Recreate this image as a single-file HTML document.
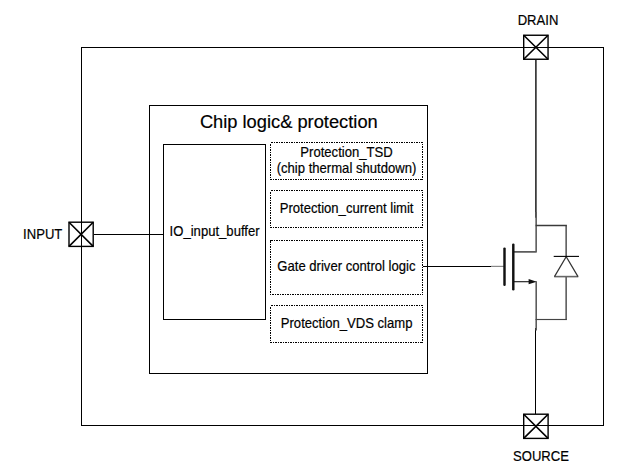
<!DOCTYPE html>
<html>
<head>
<meta charset="utf-8">
<title>Block diagram</title>
<style>
  html, body { margin: 0; padding: 0; background: #ffffff; }
  body { width: 630px; height: 474px; overflow: hidden; }
  svg { display: block; }
  text { font-family: "Liberation Sans", sans-serif; fill: #000; stroke: #000; stroke-width: 0.18px; }
</style>
</head>
<body>
<svg width="630" height="474" viewBox="0 0 630 474">
  <rect x="0" y="0" width="630" height="474" fill="#ffffff"/>

  <!-- solid boxes -->
  <g fill="none" stroke="#000" stroke-width="1" shape-rendering="crispEdges">
    <rect x="81.5" y="47.5" width="522" height="378"/>
    <rect x="149.5" y="105.5" width="278" height="268"/>
    <rect x="163.5" y="144.5" width="102" height="175"/>
  </g>

  <!-- dotted boxes -->
  <g fill="none" stroke="#000" stroke-width="1" stroke-dasharray="2 1 1 1" shape-rendering="crispEdges">
    <rect x="270.5" y="142.5" width="152" height="37"/>
    <rect x="270.5" y="190.5" width="152" height="37"/>
    <rect x="270.5" y="240.5" width="152" height="54"/>
    <rect x="270.5" y="305.5" width="152" height="37"/>
  </g>

  <!-- black wires -->
  <g fill="none" stroke="#000" stroke-width="1" shape-rendering="crispEdges">
    <line x1="94" y1="234.5" x2="163" y2="234.5"/>
    <line x1="423" y1="266.5" x2="491" y2="266.5"/>
    <line x1="535.5" y1="328" x2="535.5" y2="414"/>
  </g>
  <line x1="535.9" y1="60" x2="535.9" y2="217.7" stroke="#141414" stroke-width="1.45"/>

  <!-- MOSFET symbol (grey, slightly soft) -->
  <g fill="none" stroke="#5c5c5c" stroke-width="1.6" stroke-linejoin="round">
    <path d="M536.15 212 V251.9 H513.3"/>
    <path d="M566.15 225.5 V319.5"/>
    <path d="M536.2 281.2 V330.4"/>
  </g>
  <path d="M535.6 225.5 H566.9" fill="none" stroke="#3a3a3a" stroke-width="1.5"/>
  <path d="M513.3 281.65 H530" fill="none" stroke="#3a3a3a" stroke-width="1.3"/>
  <path d="M535.6 319.5 H566.9" fill="none" stroke="#444" stroke-width="1.15"/>
  <line x1="491" y1="266.4" x2="504.4" y2="266.4" stroke="#888" stroke-width="1.2"/>
  <!-- body diode -->
  <polygon points="566.2,256.6 554.45,276.6 578,276.6" fill="#fff" stroke="none"/>
  <line x1="554.2" y1="276.6" x2="578.3" y2="276.6" stroke="#666" stroke-width="1.6"/>
  <path d="M554.45 276.6 L566.2 256.6 L578 276.6" fill="none" stroke="#333" stroke-width="1.2" stroke-linejoin="miter"/>
  <line x1="553.7" y1="256.4" x2="579" y2="256.4" stroke="#000" stroke-width="1.1"/>
  <!-- gate / channel plates -->
  <g stroke="#111" stroke-width="2.45" stroke-linecap="round">
    <line x1="504.5" y1="248.6" x2="504.5" y2="284.8"/>
    <line x1="513.3" y1="244.6" x2="513.3" y2="289.2"/>
  </g>
  <polygon points="528.6,279.1 536.7,281.7 528.6,284.2" fill="#111"/>

  <!-- pads -->
  <g fill="#fff" stroke="#000" stroke-width="1.4">
    <rect x="523.7" y="35.25" width="24.35" height="24"/>
    <rect x="523.7" y="414.2" width="24.4" height="24.2"/>
    <rect x="69" y="222.2" width="24.2" height="24.2"/>
  </g>
  <g fill="none" stroke="#000" stroke-width="1.6">
    <path d="M523.7 35.25 L548.05 59.25 M548.05 35.25 L523.7 59.25"/>
    <path d="M523.7 414.2 L548.1 438.4 M548.1 414.2 L523.7 438.4"/>
    <path d="M69 222.2 L93.2 246.4 M93.2 222.2 L69 246.4"/>
  </g>
  <g stroke="#000" stroke-width="1" shape-rendering="crispEdges">
    <line x1="523" y1="47.5" x2="549" y2="47.5"/>
    <line x1="523" y1="425.5" x2="549" y2="425.5"/>
    <line x1="81.5" y1="221" x2="81.5" y2="248"/>
  </g>

  <!-- labels -->
  <text transform="translate(288.8,127.8) scale(1,1.0)" font-size="18.3" text-anchor="middle">Chip logic&amp; protection</text>
  <text transform="translate(346.5,157.3) scale(1,1.06)" font-size="13.1" text-anchor="middle">Protection_TSD</text>
  <text transform="translate(346.5,172.8) scale(1,1.06)" font-size="13.1" text-anchor="middle">(chip thermal shutdown)</text>
  <text transform="translate(346.6,212.8) scale(1,1.06)" font-size="13.1" text-anchor="middle">Protection_current limit</text>
  <text transform="translate(346.4,270.7) scale(1,1.06)" font-size="13.1" text-anchor="middle">Gate driver control logic</text>
  <text transform="translate(346.6,327.8) scale(1,1.06)" font-size="13.1" text-anchor="middle">Protection_VDS clamp</text>
  <text transform="translate(214.6,236.1) scale(1,1.06)" font-size="13.1" text-anchor="middle">IO_input_buffer</text>
  <text transform="translate(538,24.9) scale(1,1.06)" font-size="13.1" text-anchor="middle">DRAIN</text>
  <text transform="translate(541,461) scale(1,1.06)" font-size="13.1" text-anchor="middle">SOURCE</text>
  <text transform="translate(23.1,239.1) scale(1,1.06)" font-size="13.1" text-anchor="start">INPUT</text>
</svg>
</body>
</html>
